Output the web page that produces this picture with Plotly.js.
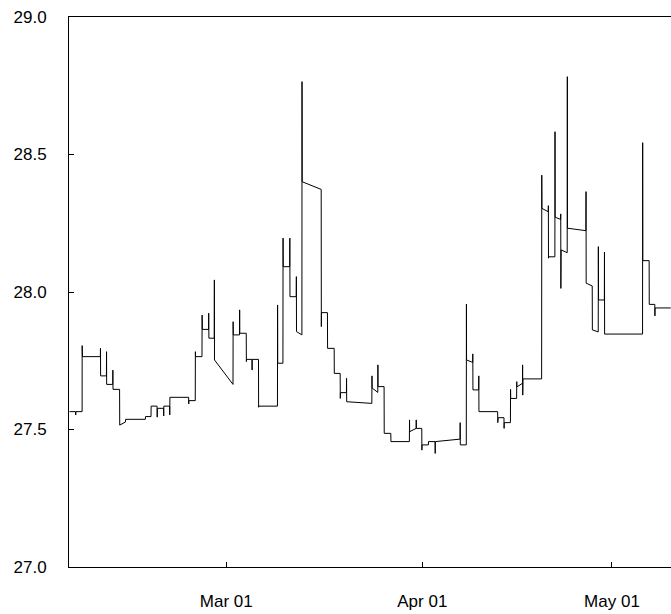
<!DOCTYPE html>
<html>
<head>
<meta charset="utf-8">
<script src="https://cdn.plot.ly/plotly-3.0.1.min.js"></script>
<style>
html,body{margin:0;padding:0;background:#fff;}
#chart{width:671px;height:614px;}
</style>
</head>
<body>
<div id="chart"></div>
<script>
// Timestamps of each observation
const times = [
"2015-02-04 05:00","2015-02-05 03:30","2015-02-05 04:30","2015-02-05 05:30","2015-02-06 04:45","2015-02-06 05:00","2015-02-06 06:00",
"2015-02-09 02:00","2015-02-09 02:30","2015-02-09 03:00","2015-02-10 01:00","2015-02-10 01:30","2015-02-10 02:00",
"2015-02-11 01:00","2015-02-11 01:30","2015-02-11 02:00","2015-02-12 03:00","2015-02-12 03:30","2015-02-13 01:00","2015-02-13 02:00",
"2015-02-16 04:45","2015-02-16 05:30","2015-02-17 02:15","2015-02-17 02:45","2015-02-18 01:15","2015-02-18 01:45","2015-02-18 02:30",
"2015-02-19 02:00","2015-02-19 02:30","2015-02-19 03:00","2015-02-20 01:00","2015-02-20 01:30","2015-02-20 02:00",
"2015-02-23 01:00","2015-02-23 01:30","2015-02-23 02:00","2015-02-24 02:15","2015-02-24 02:45","2015-02-24 03:15",
"2015-02-25 03:45","2015-02-25 04:15","2015-02-25 05:00","2015-02-26 04:45","2015-02-26 05:15","2015-02-26 06:00",
"2015-02-27 02:15","2015-02-27 02:45","2015-02-27 03:15","2015-03-02 01:30","2015-03-02 02:00","2015-03-02 02:30",
"2015-03-03 02:15","2015-03-03 02:45","2015-03-03 03:15","2015-03-04 03:45","2015-03-04 04:15","2015-03-04 05:00",
"2015-03-05 01:30","2015-03-05 02:00","2015-03-05 02:30","2015-03-06 02:15","2015-03-06 02:45","2015-03-06 03:15",
"2015-03-09 02:15","2015-03-09 02:45","2015-03-09 03:15","2015-03-09 23:00","2015-03-09 23:30","2015-03-10 00:00",
"2015-03-11 00:45","2015-03-11 01:15","2015-03-11 01:45","2015-03-12 01:30","2015-03-12 02:00","2015-03-12 02:30",
"2015-03-12 23:00","2015-03-12 23:30","2015-03-13 00:00","2015-03-16 00:15","2015-03-16 00:45","2015-03-16 01:15",
"2015-03-17 00:00","2015-03-17 00:30","2015-03-18 01:30","2015-03-18 02:00","2015-03-19 00:15","2015-03-19 00:45","2015-03-19 01:15",
"2015-03-20 00:00","2015-03-20 00:30","2015-03-20 01:00","2015-03-24 00:30","2015-03-24 01:00","2015-03-24 01:30",
"2015-03-24 23:00","2015-03-24 23:30","2015-03-25 00:00","2015-03-25 23:00","2015-03-25 23:30","2015-03-27 00:30","2015-03-27 01:00",
"2015-03-29 23:00","2015-03-29 23:30","2015-03-30 00:00","2015-03-31 00:30","2015-03-31 01:00","2015-03-31 01:30",
"2015-03-31 22:00","2015-03-31 22:30","2015-03-31 23:00","2015-04-01 23:00","2015-04-01 23:30","2015-04-03 00:30","2015-04-03 01:00","2015-04-03 01:30",
"2015-04-06 23:15","2015-04-06 23:45","2015-04-07 00:15","2015-04-07 23:00","2015-04-07 23:30","2015-04-08 00:00",
"2015-04-08 23:15","2015-04-08 23:45","2015-04-09 00:15","2015-04-09 22:00","2015-04-09 22:30","2015-04-09 23:00",
"2015-04-12 22:00","2015-04-12 22:30","2015-04-13 00:00","2015-04-13 22:00","2015-04-13 22:30","2015-04-13 23:00",
"2015-04-14 22:30","2015-04-14 23:00","2015-04-14 23:30","2015-04-15 22:00","2015-04-15 22:30","2015-04-15 23:00",
"2015-04-16 20:15","2015-04-16 20:45","2015-04-16 21:15","2015-04-16 22:00","2015-04-19 21:00","2015-04-19 21:30","2015-04-19 22:00",
"2015-04-20 22:00","2015-04-20 22:30","2015-04-20 23:00","2015-04-21 00:00","2015-04-21 23:15","2015-04-21 23:45","2015-04-22 00:15",
"2015-04-22 21:00","2015-04-22 21:30","2015-04-22 22:00","2015-04-22 23:00","2015-04-23 22:00","2015-04-23 22:30","2015-04-23 23:00",
"2015-04-26 21:00","2015-04-26 21:30","2015-04-26 22:00","2015-04-27 21:00","2015-04-27 21:30","2015-04-28 19:45","2015-04-28 20:15","2015-04-28 21:00",
"2015-04-29 19:00","2015-04-29 19:30","2015-04-29 20:00","2015-05-05 20:00","2015-05-05 20:30","2015-05-05 21:00",
"2015-05-06 21:00","2015-05-06 21:30","2015-05-07 18:30","2015-05-07 19:00","2015-05-07 19:30","2015-05-10 07:00"
];
// Observed values
const values = [
27.565,27.565,27.553,27.565,27.565,27.805,27.765,
27.765,27.795,27.695,27.695,27.783,27.664,
27.664,27.716,27.646,27.646,27.516,27.527,27.537,
27.537,27.547,27.547,27.585,27.585,27.545,27.577,
27.577,27.549,27.585,27.585,27.553,27.617,
27.617,27.593,27.605,27.605,27.783,27.765,
27.765,27.916,27.864,27.864,27.923,27.832,
27.832,28.044,27.753,27.664,27.892,27.844,
27.844,27.935,27.850,27.850,27.747,27.755,
27.755,27.716,27.755,27.755,27.581,27.585,
27.585,27.953,27.741,27.741,28.196,28.092,
28.092,28.196,27.983,27.983,28.056,27.856,
27.844,28.765,28.401,28.373,27.874,27.925,
27.925,27.795,27.795,27.704,27.704,27.613,27.634,
27.634,27.686,27.601,27.595,27.695,27.651,
27.635,27.735,27.656,27.656,27.486,27.486,27.456,
27.456,27.535,27.492,27.504,27.535,27.504,
27.504,27.425,27.444,27.444,27.456,27.456,27.413,27.456,
27.465,27.525,27.444,27.444,27.956,27.753,
27.744,27.775,27.644,27.644,27.695,27.565,
27.565,27.525,27.543,27.543,27.504,27.525,
27.525,27.646,27.613,27.613,27.674,27.655,
27.668,27.735,27.625,27.684,27.684,28.425,28.304,
28.292,28.314,28.123,28.128,28.128,28.583,28.272,
28.264,28.284,28.013,28.153,28.143,28.783,28.232,
28.223,28.365,28.032,28.022,27.862,27.855,28.165,27.971,
27.971,28.145,27.847,27.847,28.543,28.114,
28.114,27.955,27.955,27.913,27.942,27.942
];
const xRange = ["2015-02-04 03:00","2015-05-10 08:00"];
const yRange = [27.0, 29.0];

const trace = {
  x: times, y: values, type: "scatter", mode: "lines",
  line: {color: "#000000", width: 1},
  hoverinfo: "skip"
};
const layout = {
  width: 671, height: 614,
  margin: {l: 69, r: 0, t: 17, b: 47, pad: 0},
  paper_bgcolor: "#ffffff", plot_bgcolor: "#ffffff",
  showlegend: false,
  font: {family: "Liberation Sans, Arial, sans-serif", size: 17, color: "#000000"},
  xaxis: {
    type: "date", range: xRange,
    tick0: "2015-01-01", dtick: "M1", tickformat: "%b %d",
    ticks: "inside", ticklen: 5, tickcolor: "#000", tickwidth: 1,
    showline: true, linecolor: "#000", linewidth: 1, mirror: true,
    showgrid: false, zeroline: false, ticklabelstandoff: 19
  },
  yaxis: {
    range: yRange, dtick: 0.5, tick0: 27, tickformat: ".1f",
    ticks: "inside", ticklen: 5, tickcolor: "#000", tickwidth: 1,
    showline: true, linecolor: "#000", linewidth: 1, mirror: false,
    showgrid: false, zeroline: false, ticklabelstandoff: 18
  }
};
Plotly.newPlot("chart", [trace], layout, {displayModeBar: false, staticPlot: true});
</script>
</body>
</html>
